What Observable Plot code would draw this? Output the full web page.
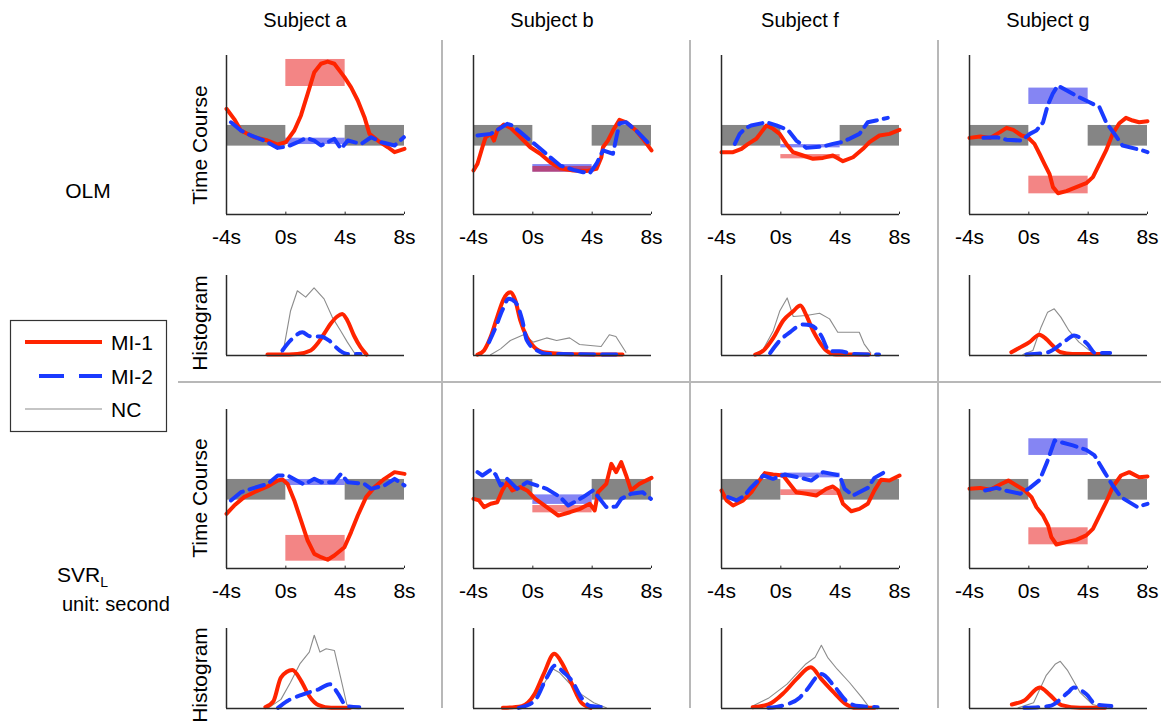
<!DOCTYPE html>
<html><head><meta charset="utf-8">
<script src="https://cdn.jsdelivr.net/npm/d3@7"></script>
<script src="https://cdn.jsdelivr.net/npm/@observablehq/plot@0.6"></script>
<style>
body{margin:0;background:#fff;font-family:"Liberation Sans",Arial,sans-serif;}
#fig{position:relative;width:1161px;height:725px;overflow:hidden;background:#fff;}
#fig > svg, #fig > figure{position:absolute;margin:0;}
</style></head><body><div id="fig"></div>
<script>
// ---------- labels ----------
const subjects = ["Subject a", "Subject b", "Subject f", "Subject g"];
const seriesNames = ["MI-1", "MI-2", "NC"];
const xTicks = [-4, 0, 4, 8];
const tickLabels = ["-4s", "0s", "4s", "8s"];
const baselineBand = [43, 56];
const baselineWindows = [[-4, 0], [4, 8]];
const activeWindow = [0, 4];

// ---------- OLM time courses [t (s), value] ----------
const olmA1 = [[-4,66.5],[-3.48,60],[-3.03,52.8],[-2.13,48.6],[-1.23,46.5],[-0.55,44],[0,45.5],[0.57,52.8],[1.02,62.3],[1.47,75.9],[1.92,89.5],[2.37,94.8],[2.82,96.2],[3.27,94.8],[3.95,86.4],[4.4,80],[4.85,71.7],[5.3,61.2],[5.64,50.7],[6.2,46.5],[6.88,42.3],[7.33,39.2],[8,41.3]];
const olmA2 = [[-3.7,58],[-3.03,52.8],[-2.36,49.7],[-1.46,46.5],[-0.55,41.9],[0.12,42.8],[0.8,45.5],[1.36,48.2],[1.92,46.5],[2.37,43.4],[3.27,47.6],[3.72,41.3],[4.18,46.5],[5.08,44.4],[5.75,48.6],[6.43,45.5],[7.33,43.4],[7.96,48.6]];
const olmB1 = [[-4,27.7],[-3.73,31.9],[-3.4,42.3],[-3.18,48.6],[-2.84,50.7],[-2.62,46.5],[-2.4,52.8],[-1.95,56.6],[-1.5,54.5],[-0.84,48.6],[-0.17,42.3],[0.5,38.2],[1.17,32.9],[1.84,29.1],[2.73,27.7],[3.62,27.3],[4.29,28.7],[4.62,36],[4.73,42.3],[5.06,46.5],[5.4,52.8],[5.84,59.5],[6.29,58],[6.96,52.8],[7.51,46.5],[8,40.3]];
const olmB2 = [[-3.73,49.7],[-2.84,50.7],[-2.17,54.5],[-1.73,57],[-1.39,56],[-0.84,51.8],[-0.39,48.2],[0.39,42.3],[1.17,36],[1.84,30.8],[2.73,28.1],[3.39,26.6],[3.84,26],[4.29,31.9],[4.73,40.3],[5.4,38.2],[5.84,57.4],[6.29,58],[6.96,52.8],[7.84,44.4]];
const olmF1 = [[-4,39.2],[-3.22,39.2],[-2.65,41.3],[-2.2,44.4],[-1.65,47.6],[-1.31,51.8],[-0.97,56],[-0.52,53.9],[-0.08,50.7],[0.37,44.4],[0.82,39.2],[1.49,37.1],[2.17,35],[2.84,35.6],[3.51,37.1],[4.19,33.5],[4.87,36],[5.54,41.3],[5.98,45.5],[6.65,49.7],[7.33,50.7],[8,53.2]];
const olmF2 = [[-3.1,44.4],[-2.77,50.7],[-2.43,53.9],[-2,56],[-0.97,58],[-0.3,56],[0.48,53.2],[1.04,46.5],[1.72,41.9],[2.84,42.8],[3.51,44.4],[4.07,45.5],[4.63,47.6],[5.3,50.7],[5.86,58],[6.42,59.1],[7.21,60.8]];
const olmG1 = [[-4,48.2],[-3.28,49.1],[-2.61,48.2],[-1.94,51.8],[-1.5,54.5],[-1.05,53.2],[-0.49,49.7],[-0.07,48.6],[0.38,44.4],[0.72,38.2],[1.05,31.9],[1.39,25.6],[1.63,17.2],[1.97,13.4],[2.53,14.7],[3.2,17.2],[3.87,19.7],[4.32,23.5],[4.76,31.9],[5.21,40.3],[5.65,50.7],[6.1,57.4],[6.55,60.8],[7,59.1],[7.44,58],[8,58.7]];
const olmG2 = [[-3.06,48.2],[-2.17,48.6],[-1.5,47],[-0.49,46.5],[0.07,50.7],[0.51,52.8],[0.96,58],[1.27,68.6],[1.61,75.9],[1.95,81.1],[3.17,74.8],[4.09,70.6],[4.76,67.5],[5.21,58],[5.77,50.7],[6.32,43.4],[7.66,40.3],[8,39.2]];

// ---------- SVR_L time courses ----------
const svrA1 = [[-4,34.4],[-3.48,39.6],[-2.81,44.9],[-2.13,48],[-1.23,51.6],[-0.55,55.3],[-0.22,56],[0.12,53.2],[0.57,42.8],[1.02,30.2],[1.47,17.6],[1.92,9.2],[2.37,7.1],[2.82,5.5],[3.27,8.2],[3.95,13.4],[4.4,22.9],[4.85,33.3],[5.41,44.9],[5.98,51.2],[6.65,56.4],[7.33,60.6],[8,59.5]];
const svrA2 = [[-3.7,42.8],[-3.03,48],[-2.13,50.7],[-1.23,53.2],[-0.55,58.5],[0.12,58.5],[1.24,52.8],[1.92,56.4],[2.37,54.3],[3.27,54.3],[3.72,59.5],[4.18,54.3],[5.3,53.2],[5.75,50.1],[6.65,52.2],[7.33,56.4],[8,52.2]];
const svrB1 = [[-4,43.8],[-3.62,42.8],[-3.29,38.6],[-2.84,40.7],[-2.4,41.7],[-2.06,49.1],[-1.73,54.3],[-1.39,49.1],[-0.84,51.2],[-0.39,49.1],[0.17,43.8],[0.94,38.6],[1.72,33.3],[2.5,35.4],[3.17,37.5],[3.84,40.7],[4.17,36.5],[4.4,48],[4.95,53.2],[5.29,65.8],[5.62,60.6],[5.96,66.9],[6.29,58.5],[6.62,49.1],[7.18,53.2],[8,57]];
const svrB2 = [[-3.73,60.6],[-3.4,58.5],[-2.84,62],[-2.51,59.1],[-2.17,52.2],[-1.73,56.4],[-1.06,50.1],[-0.39,54.3],[-0.06,53.2],[0.94,50.1],[1.84,44.9],[2.39,39.6],[3.39,44.9],[4.06,49.1],[4.95,38.6],[5.62,39],[5.96,43.8],[6.62,47],[7.4,48],[7.96,43.8]];
const svrF1 = [[-4,49.1],[-3.66,42.8],[-3.22,39.6],[-2.54,42.8],[-1.98,48],[-1.53,54.3],[-1.08,60],[-0.52,59.1],[0.15,58.5],[0.6,53.2],[1.04,48],[1.72,47],[2.39,45.9],[3.06,50.1],[3.51,51.6],[3.85,49.1],[4.19,40.7],[4.75,36],[5.3,37.5],[5.86,40.7],[6.31,49.1],[6.76,55.8],[7.32,55.3],[8,58.5]];
const svrF2 = [[-3.55,44.9],[-2.99,42.8],[-2.43,45.9],[-2.09,50.1],[-1.19,58.5],[-0.52,56.4],[0.26,59.1],[1.38,57],[2.05,55.3],[2.84,60.6],[3.96,58.5],[4.3,50.1],[4.86,45.9],[5.86,50.7],[6.31,57],[7.1,61.2]];
const svrG1 = [[-4,50.1],[-3.28,50.7],[-2.61,49.5],[-1.94,52.8],[-1.38,55.3],[-0.83,52.2],[-0.27,49.1],[0.18,44.9],[0.51,38.6],[0.96,33.3],[1.3,27],[1.52,19.7],[1.86,15.1],[2.53,16.6],[3.2,18],[3.87,20.8],[4.32,24.9],[4.76,33.3],[5.21,41.7],[5.65,51.2],[6.21,58.5],[6.77,60.6],[7.44,57.4],[8,57.9]];
const svrG2 = [[-2.95,49.1],[-2.17,50.7],[-1.6,49.1],[-0.57,47],[0.07,50.7],[0.74,55.8],[1.23,66.9],[1.74,80.5],[2.97,77.4],[3.87,74.6],[4.43,71.1],[5.1,60.6],[5.65,52.2],[6.21,44.9],[7.33,38.6],[8,40.7]];

// ---------- mean boxes during 0-4 s: [low, high] ----------
const olmBoxMI1 = [[80.5,97.5],[26.6,30.2],[35,37.7],[13,24.1]];
const olmBoxMI2 = [[44,48],[26.6,31.4],[41.9,44],[69.2,79.5]];
const svrBoxMI1 = [[4.6,20.8],[35,39.6],[45.9,49.5],[14.9,25.6]];
const svrBoxMI2 = [[52.2,56],[40.3,46.3],[57,60],[71.1,81.6]];

// ---------- OLM histograms [bin position, count] ----------
const olmHistA1 = [[23,1.2],[30.5,1.2],[39.8,2],[47.3,6.3],[51,14.6],[54.8,27],[58.5,39.6],[62.2,48.8],[65,52],[67.9,43.8],[71.6,25],[75.3,10.4],[78.7,1.2]];
const olmHistA2 = [[31.4,6.3],[36,18.8],[42.6,29],[47,24],[52.9,23.8],[57.6,18.8],[63.2,7],[67.9,2],[75.3,2]];
const olmHistAN = [[30.5,2],[32.3,10.4],[36,56],[39.8,81],[44.5,73],[49.2,84.6],[54.8,70.8],[59.4,48],[64.1,31],[67.9,16.7],[71.6,4],[73.5,1]];
const olmHistB1 = [[2.2,1],[5.9,6.3],[9.6,23],[13.3,48],[17,70.8],[20.7,79],[23.5,68.8],[26.3,43.8],[30,23],[33.7,11.3],[39.3,4],[50.4,2],[83.7,1.2]];
const olmHistB2 = [[8.7,16.7],[12.4,35],[16.1,56],[19.8,70.8],[23.5,66.7],[27.2,45.8],[30,18.8],[35.6,6.3],[41.1,2],[83.7,1.2]];
const olmHistBN = [[9.6,1],[15.2,8.3],[20.7,18.8],[28.1,26],[33.7,16.7],[41.1,22],[46.7,18.8],[54,22],[59.6,13.8],[71.7,11.3],[76.3,26],[80,23.8],[85.6,4]];
const olmHistF1 = [[18.9,1],[23.6,6.3],[29.1,22],[34.7,43.8],[40.3,55.4],[44.3,62.5],[47.7,50],[51.4,31],[55.1,16.7],[58.8,6.3],[64.4,1.2],[82.9,1.2]];
const olmHistF2 = [[27.3,3],[32.8,18.8],[38.4,29],[45.8,38.8],[50.5,37.5],[56,25],[60.7,5.4],[66.2,5.4],[73.7,2],[88.5,1.2]];
const olmHistFN = [[18.9,2],[23.6,8.3],[29.1,31],[32.8,56],[36.9,72],[40.3,48.8],[47.7,50],[55.1,52.9],[60.7,45.8],[65.3,29],[77.4,29],[80.1,14.6],[83.9,3]];
const olmHistG1 = [[23.5,4],[28.1,9.6],[33.7,16.7],[39.3,26],[43,20.8],[46.7,12.5],[51.3,4],[57.8,2],[73.5,2]];
const olmHistG2 = [[31.9,1.2],[43.9,4],[54.1,18.8],[58.7,25],[66.1,14.6],[70.7,3],[79,3]];
const olmHistGN = [[30,1.2],[35.6,6.3],[40.2,35.4],[43.9,54.2],[47.6,58.3],[51.3,48],[55.9,31],[61.5,16.7],[67,7],[72.6,2]];

// ---------- SVR_L histograms ----------
const svrHistA1 = [[21.8,1.7],[26.4,9.3],[30.6,38.8],[37,48],[41.9,34.6],[46.5,15.6],[51.8,4.2],[58.8,0.8],[69.4,0.8]];
const svrHistA2 = [[28.9,0.8],[34.2,9.3],[43,17.7],[51.8,24],[58.1,30.4],[62.3,19.8],[67.6,3],[74.6,1.7]];
const svrHistAN = [[23.6,0.8],[30.6,11.4],[35.9,32.5],[41.2,55.7],[46.5,70.5],[49.3,91.6],[52.5,70.5],[56,74.7],[60.6,72.6],[64.1,38.8],[67.6,5],[71.1,0.8]];
const svrHistB1 = [[16.5,0.8],[27.1,3],[34.2,17.7],[39.4,43],[45.4,68.4],[50,55.7],[55.3,30.4],[60.6,7.2],[65.8,0.8]];
const svrHistB2 = [[25.4,0.8],[34.2,9.3],[41.2,38.8],[45.8,53.6],[50.7,45.1],[55.3,34.6],[60.6,13.5],[65.8,3],[74.6,1.7]];
const svrHistBN = [[25.4,0.8],[32.4,9.3],[39.4,30.4],[44.7,49.4],[48.2,45.1],[53.5,32.5],[60.6,17.7],[67.6,7.2],[74.6,0.8]];
const svrHistF1 = [[17.5,1.7],[26.3,5],[35.1,19.8],[42.1,36.7],[50.2,51.5],[56.1,36.7],[63.2,19.8],[70.2,5],[75.4,0.8],[86,0.8]];
const svrHistF2 = [[26.3,0.8],[35.1,4.2],[43.9,13.5],[47.4,22],[56.1,43],[63.2,28.3],[70.2,9.3],[77.2,3],[87.7,1.7]];
const svrHistFN = [[17.5,3],[26.3,12.7],[36.8,30.4],[47.4,55.7],[52.6,64],[56.1,79],[59.6,64],[64.9,49.4],[71.9,32.5],[78.9,13.5],[82.5,3]];
const svrHistG1 = [[23.8,5],[30.8,10.1],[39.5,26.2],[44.8,17.7],[51.7,4.2],[62.2,0.8],[76.2,0.8]];
const svrHistG2 = [[30.8,0.8],[44.8,3],[55.2,19.8],[58.7,26.2],[65.7,17.7],[71,5],[79.7,3]];
const svrHistGN = [[27.3,0.8],[36,7.2],[43,41],[48.3,55.7],[51,59],[55.2,47.3],[62.2,19.8],[69.2,5],[76.2,0.8]];

// ---------- styling ----------
const RED = "#ff2400", BLUE = "#1a3aff", NCGRAY = "#8c8c8c", AXIS = "#2a2a2a";
const FONT = "'Liberation Sans', Arial, Helvetica, sans-serif";
const colLeft = [226, 473, 721, 969];
const PW = 178;           // plot frame width
const TC_H = 159, H_H = 80;
const tcTops = [55, 409];
const histTops = [275, 628];

const fig = document.getElementById("fig");

function place(el, left, top) {
  el.style.left = left + "px";
  el.style.top = top + "px";
  fig.appendChild(el);
}

function timeCourse(mi1, mi2, box1, box2) {
  return Plot.plot({
    width: PW + 40, height: TC_H + 45,
    marginLeft: 20, marginRight: 20, marginTop: 5, marginBottom: 40,
    x: {domain: [-4, 8], axis: null},
    y: {domain: [0, 100], axis: null},
    style: {fontFamily: FONT, fontSize: "21px", color: "#000", background: "transparent", overflow: "visible"},
    marks: [
      Plot.rect(baselineWindows, {x1: d => d[0], x2: d => d[1], y1: () => baselineBand[0], y2: () => baselineBand[1], fill: "#858585"}),
      Plot.rect([box2], {x1: () => activeWindow[0], x2: () => activeWindow[1], y1: d => d[0], y2: d => d[1], fill: "#0000e6", fillOpacity: 0.48}),
      Plot.rect([box1], {x1: () => activeWindow[0], x2: () => activeWindow[1], y1: d => d[0], y2: d => d[1], fill: "#e60000", fillOpacity: 0.48}),
      Plot.line(mi1, {x: d => d[0], y: d => d[1], stroke: RED, strokeWidth: 4, strokeLinejoin: "round"}),
      Plot.line(mi2, {x: d => d[0], y: d => d[1], stroke: BLUE, strokeWidth: 4, strokeDasharray: "15,7", strokeLinejoin: "round"}),
      Plot.ruleX([-4], {stroke: AXIS, strokeWidth: 1.5}),
      Plot.ruleY([0], {stroke: AXIS, strokeWidth: 1.5}),
      Plot.ruleX(xTicks.slice(1), {y1: () => 0, y2: () => 1.5, stroke: AXIS, strokeWidth: 1}),
      Plot.axisX({ticks: xTicks, tickFormat: d => tickLabels[xTicks.indexOf(d)], tickSize: 0, tickPadding: 15, fontSize: 21, label: null})
    ]
  });
}

function histogram(h1, h2, hn) {
  return Plot.plot({
    width: PW + 40, height: H_H + 15,
    marginLeft: 20, marginRight: 20, marginTop: 5, marginBottom: 10,
    x: {domain: [0, 100], axis: null},
    y: {domain: [0, 100], axis: null},
    style: {background: "transparent", overflow: "visible"},
    marks: [
      Plot.line(hn, {x: d => d[0], y: d => d[1], stroke: NCGRAY, strokeWidth: 1.1}),
      Plot.line(h1, {x: d => d[0], y: d => d[1], stroke: RED, strokeWidth: 4, curve: "monotone-x", strokeLinejoin: "round"}),
      Plot.line(h2, {x: d => d[0], y: d => d[1], stroke: BLUE, strokeWidth: 4, curve: "monotone-x", strokeDasharray: "14,8"}),
      Plot.ruleX([0], {stroke: AXIS, strokeWidth: 1.5}),
      Plot.ruleY([0], {stroke: AXIS, strokeWidth: 1.5})
    ]
  });
}

// ---------- overlay (titles, labels, separators, legend) ----------
const ov = d3.create("svg").attr("width", 1161).attr("height", 725)
  .style("font-family", FONT).style("left", "0px").style("top", "0px");
fig.appendChild(ov.node());

// separators
[442, 690, 938].forEach(x => ov.append("line").attr("x1", x).attr("x2", x).attr("y1", 40).attr("y2", 708)
  .attr("stroke", "#b8b8b8").attr("stroke-width", 2));
ov.append("line").attr("x1", 178).attr("x2", 1161).attr("y1", 382).attr("y2", 382)
  .attr("stroke", "#b8b8b8").attr("stroke-width", 2);

const tcData = [
  [[olmA1, olmA2], [olmB1, olmB2], [olmF1, olmF2], [olmG1, olmG2]],
  [[svrA1, svrA2], [svrB1, svrB2], [svrF1, svrF2], [svrG1, svrG2]]
];
const boxData = [[olmBoxMI1, olmBoxMI2], [svrBoxMI1, svrBoxMI2]];
const histData = [
  [[olmHistA1, olmHistA2, olmHistAN], [olmHistB1, olmHistB2, olmHistBN], [olmHistF1, olmHistF2, olmHistFN], [olmHistG1, olmHistG2, olmHistGN]],
  [[svrHistA1, svrHistA2, svrHistAN], [svrHistB1, svrHistB2, svrHistBN], [svrHistF1, svrHistF2, svrHistFN], [svrHistG1, svrHistG2, svrHistGN]]
];

for (let r = 0; r < 2; r++) {
  for (let c = 0; c < 4; c++) {
    const [m1, m2] = tcData[r][c];
    const tc = timeCourse(m1, m2, boxData[r][0][c], boxData[r][1][c]);
    place(tc, colLeft[c] - 20, tcTops[r] - 5);
    const [h1, h2, hn] = histData[r][c];
    const hg = histogram(h1, h2, hn);
    place(hg, colLeft[c] - 20, histTops[r] - 5);
  }
}
// bring overlay to front
fig.appendChild(ov.node());

// titles
subjects.forEach((s, i) => ov.append("text").attr("x", colLeft[i] + 79).attr("y", 27)
  .attr("text-anchor", "middle").attr("font-size", 20).text(s));

// rotated panel labels
const rowLabels = [["Time Course", 145], ["Histogram", 323], ["Time Course", 498], ["Histogram", 675]];
rowLabels.forEach(([t, cy]) => ov.append("text")
  .attr("transform", `translate(207,${cy}) rotate(-90)`)
  .attr("text-anchor", "middle").attr("font-size", 21).text(t));

// method labels
ov.append("text").attr("x", 88).attr("y", 198).attr("text-anchor", "middle").attr("font-size", 21).text("OLM");
const svr = ov.append("text").attr("x", 57).attr("y", 582).attr("font-size", 21);
svr.append("tspan").text("SVR");
svr.append("tspan").attr("font-size", 14).attr("dy", 5).text("L");
ov.append("text").attr("x", 62).attr("y", 611).attr("font-size", 20).text("unit: second");

// legend
ov.append("rect").attr("x", 10.5).attr("y", 320.5).attr("width", 156).attr("height", 111)
  .attr("fill", "#fff").attr("stroke", "#333").attr("stroke-width", 1.2);
const legStyles = [
  {stroke: RED, w: 4, dash: null},
  {stroke: BLUE, w: 4, dash: "25,15"},
  {stroke: NCGRAY, w: 1.1, dash: null}
];
const legY = [342, 376, 409];
seriesNames.forEach((n, i) => {
  const ln = ov.append("line").attr("x1", i === 1 ? 39 : 25).attr("x2", 102).attr("y1", legY[i]).attr("y2", legY[i])
    .attr("stroke", legStyles[i].stroke).attr("stroke-width", legStyles[i].w);
  if (legStyles[i].dash) ln.attr("stroke-dasharray", legStyles[i].dash);
  ov.append("text").attr("x", 111).attr("y", legY[i] + 7.5).attr("font-size", 21).text(n);
});
</script></body></html>
